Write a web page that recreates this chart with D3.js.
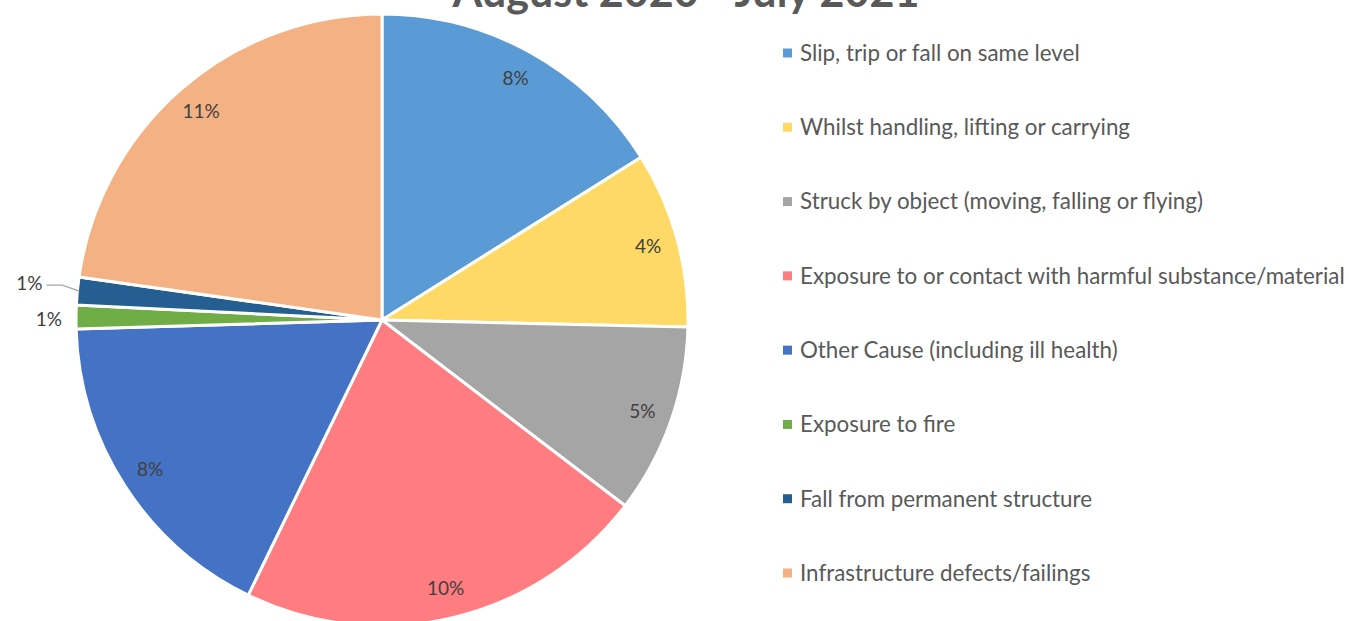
<!DOCTYPE html>
<html><head><meta charset="utf-8">
<script src="https://cdn.jsdelivr.net/npm/d3@7"></script>
<style>body{margin:0;background:#fff;overflow:hidden}svg{display:block}</style>
</head><body>
<svg id="c" width="1349" height="621"></svg>
<script>
const title = "August 2020 - July 2021";
const categories = ["Slip, trip or fall on same level","Whilst handling, lifting or carrying","Struck by object (moving, falling or flying)","Exposure to or contact with harmful substance/material","Other Cause (including ill health)","Exposure to fire","Fall from permanent structure","Infrastructure defects/failings"];
const values = [7.7, 4.45, 4.8, 10.45, 8.3, 0.6, 0.7, 10.9];
const colors = ["#5B9BD5","#FFD966","#A5A5A5","#FF7C80","#4472C4","#70AD47","#255E91","#F4B183"];

const svg = d3.select("#c");
const font = "Lato, 'Open Sans', sans-serif";
const cx = 382, cy = 320, R = 306;

const pie = d3.pie().sort(null).value(d => d)(values);
const arc = d3.arc().innerRadius(0).outerRadius(R);
const labelArc = d3.arc().innerRadius(276).outerRadius(276);

const g = svg.append("g").attr("transform", `translate(${cx},${cy})`);
g.selectAll("path").data(pie).join("path")
  .attr("d", arc).attr("fill", (d,i) => colors[i])
  .attr("stroke", "#fff").attr("stroke-width", 3).attr("stroke-linejoin","round");

const fmt = v => Math.round(v) + "%";
pie.forEach((d, i) => {
  if (values[i] >= 2) {
    const [x, y] = labelArc.centroid(d);
    g.append("text").attr("x", x).attr("y", y).attr("dy", "0.35em")
      .attr("text-anchor", "middle").attr("font-family", font).attr("font-size", 19)
      .attr("fill", "#404040").text(fmt(values[i]));
  }
});
// small outer labels
pie.forEach((d, i) => {
  if (values[i] >= 2) return;
  const a = (d.startAngle + d.endAngle) / 2;
  const px = Math.sin(a) * (R - 2), py = -Math.cos(a) * (R - 2);
  if (i === 6) {
    const lx = px - 33, ly = py - 6;
    g.append("path").attr("d", `M${px},${py} L${lx+16},${ly} L${lx},${ly}`)
      .attr("fill","none").attr("stroke","#A6A6A6").attr("stroke-width",1.2);
    g.append("text").attr("x", lx - 4).attr("y", ly - 2).attr("dy","0.35em")
      .attr("text-anchor","end").attr("font-family",font).attr("font-size",19)
      .attr("fill","#404040").text(fmt(values[i]));
  } else {
    g.append("text").attr("x", px - 16).attr("y", py + 2).attr("dy","0.35em")
      .attr("text-anchor","end").attr("font-family",font).attr("font-size",19)
      .attr("fill","#404040").text(fmt(values[i]));
  }
});

// title
const t = svg.append("text").attr("x", 686).attr("y", 7).attr("text-anchor","middle")
  .attr("font-family", font).attr("font-weight","bold").attr("font-size", 40)
  .attr("fill","#595959").text(title);
const tw = t.node().getComputedTextLength();
if (tw > 0) t.attr("font-size", 40 * 467 / tw);

// legend
const ly = d3.scalePoint().domain(categories).range([53, 573]);
const leg = svg.append("g");
categories.forEach((c, i) => {
  leg.append("rect").attr("x", 783).attr("y", ly(c) - 4.5).attr("width", 9).attr("height", 9).attr("fill", colors[i]);
  leg.append("text").attr("x", 800).attr("y", ly(c)).attr("dy","0.35em")
    .attr("font-family", font).attr("font-size", 20).attr("fill","#595959").text(c);
});
const longest = leg.selectAll("text").nodes().reduce((m,n)=>Math.max(m,n.getComputedTextLength()),0);
if (longest > 0) leg.selectAll("text").attr("font-size", 20 * 545 / longest);
</script>
</body></html>
